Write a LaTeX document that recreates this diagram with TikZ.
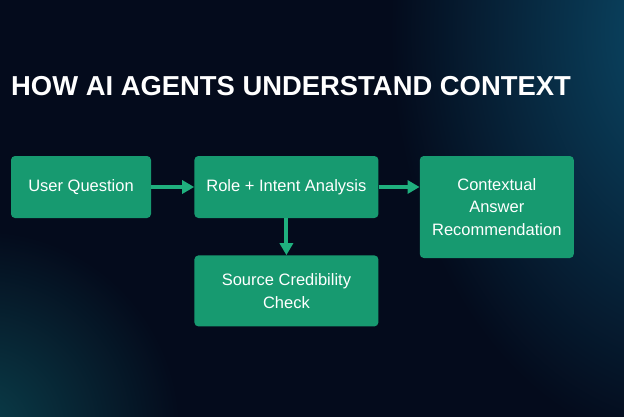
\documentclass[tikz,border=0pt]{standalone}
\usepackage{fontspec}
\setmainfont{Liberation Sans}
\usepackage{tikz}
\usetikzlibrary{positioning,arrows.meta}
\definecolor{bgnavy}{HTML}{040B1C}
\definecolor{glowblue}{HTML}{0B4C6B}
\definecolor{glowteal}{HTML}{0A3E4A}
\definecolor{boxgreen}{HTML}{179A70}
\definecolor{arrgreen}{HTML}{1FB07E}
\begin{document}
\begin{tikzpicture}[x=1pt, y=-1pt, node distance=37pt and 43pt,
  every node/.style={font=\fontsize{16.5}{22.5}\selectfont, text=white},
  box/.style={fill=boxgreen, rounded corners=4pt, align=center, minimum height=62pt, inner sep=0pt},
  arr/.style={draw=arrgreen, line width=4pt, -{Triangle[length=12pt, width=13pt]}}]
\useasboundingbox (0,0) rectangle (624,416);
\fill[bgnavy] (-2,-2) rectangle (626,418);
\begin{scope}
\clip (-2,-2) rectangle (626,418);
\shade[inner color=glowblue, outer color=bgnavy] (690,30) ellipse (300pt and 420pt);
\shade[inner color=glowteal, outer color=bgnavy] (-20,430) circle (200pt);
\end{scope}
\node[font=\bfseries\fontsize{27.4}{30}\selectfont, anchor=base west, inner sep=0pt] (title) at (11,95) {HOW AI AGENTS UNDERSTAND CONTEXT};
\node[box, minimum width=140pt] (user) at (81,187) {User Question};
\node[box, minimum width=184pt, right=of user] (role) {Role + Intent Analysis};
\node[box, minimum width=184pt, minimum height=71pt, below=of role] (source) {Source Credibility\\Check};
\node[box, minimum width=154pt, minimum height=102pt, below right=0pt and 41pt of role.north east] (answer) {Contextual\\Answer\\Recommendation};
\draw[arr] (user) -- (role); \draw[arr] (role) -- (source);
\draw[arr] (role.east) -- (role.east -| answer.west);
\end{tikzpicture}
\end{document}
